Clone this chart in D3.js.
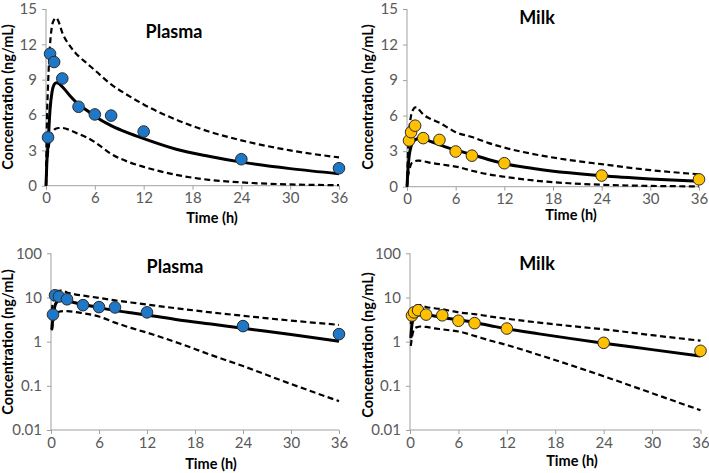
<!DOCTYPE html>
<html>
<head>
<meta charset="utf-8">
<script src="https://cdn.jsdelivr.net/npm/d3@7"></script>
<style>
  body { margin: 0; background: #fff; }
  svg { display: block; }
  .tick text { font-family: Lato, "Liberation Sans", sans-serif; font-size: 15px; fill: #595959; }
  .tick line, .domain { stroke: #a0a0a0; }
  .ttl { font-family: Lato, "Liberation Sans", sans-serif; font-weight: bold; fill: #000; }
</style>
</head>
<body>
<div class="fig"></div>
<script>
var width = 709, height = 473;

// model time grid (h)
var modelTimes = [0, 0.1, 0.25, 0.5, 0.75, 1, 1.25, 1.5, 2, 3, 4, 5, 6, 8, 10, 12, 16, 20, 24, 30, 36];

// plasma: prediction and dashed bounds (ng/mL)
var plasmaPred  = [0, 1.9, 3.5, 6.5, 8.0, 8.6, 8.75, 8.7, 8.4, 7.6, 6.9, 6.4, 5.9, 5.1, 4.5, 4.0, 3.1, 2.5, 2.0, 1.45, 1.02];
var plasmaUpper = [0, 5.0, 8.5, 12.0, 13.6, 14.1, 14.25, 14.0, 13.0, 11.8, 11.0, 10.4, 9.8, 8.6, 7.7, 6.9, 5.6, 4.6, 3.85, 3.0, 2.4];
var plasmaLower = [0, 1.8, 2.8, 4.0, 4.5, 4.75, 4.85, 4.9, 4.9, 4.7, 4.4, 4.1, 3.7, 2.7, 2.05, 1.6, 0.92, 0.5, 0.28, 0.11, 0.045];

// milk
var milkPred  = [0, 1.2, 2.5, 3.4, 3.8, 3.95, 4.05, 4.07, 4.05, 3.8, 3.55, 3.3, 3.1, 2.72, 2.3, 1.95, 1.5, 1.17, 0.92, 0.66, 0.47];
var milkUpper = [0, 2.5, 4.5, 6.0, 6.5, 6.7, 6.7, 6.5, 6.1, 5.7, 5.4, 5.0, 4.6, 4.2, 3.7, 3.3, 2.7, 2.25, 1.9, 1.4, 1.05];
var milkLower = [0, 0.8, 1.3, 1.9, 2.1, 2.15, 2.2, 2.2, 2.15, 2.0, 1.9, 1.8, 1.7, 1.35, 1.05, 0.84, 0.5, 0.29, 0.165, 0.068, 0.028];

// observed
var obsTimes  = [0.25, 0.5, 1, 2, 4, 6, 8, 12, 24, 36];
var plasmaObs = [4.1, 11.2, 10.5, 9.1, 6.7, 6.05, 5.95, 4.6, 2.25, 1.48];
var milkObs   = [3.9, 4.6, 5.15, 4.1, 3.95, 2.97, 2.62, 1.98, 0.94, 0.62];

var xTicks   = [0, 6, 12, 18, 24, 30, 36];
var linTicks = [0, 3, 6, 9, 12, 15];
var logTicks = [0.01, 0.1, 1, 10, 100];

var panels = [
  {title: "Plasma", log: false, pred: plasmaPred, up: plasmaUpper, lo: plasmaLower, obs: plasmaObs, fill: "#1f77c8",
   x0: 46, x1: 339, y0: 185.7, y1: 9, tx: 174, ty: 32, ax: 212, ay: 218, yx: 8, yy: 97},
  {title: "Milk", log: false, pred: milkPred, up: milkUpper, lo: milkLower, obs: milkObs, fill: "#ffc000",
   x0: 407, x1: 699, y0: 186.7, y1: 9, tx: 537, ty: 18, ax: 571, ay: 215, yx: 368, yy: 97},
  {title: "Plasma", log: true, pred: plasmaPred, up: plasmaUpper, lo: plasmaLower, obs: plasmaObs, fill: "#1f77c8",
   x0: 51, x1: 339, y0: 430, y1: 253.3, tx: 175, ty: 267, ax: 211, ay: 464, yx: 8, yy: 342},
  {title: "Milk", log: true, pred: milkPred, up: milkUpper, lo: milkLower, obs: milkObs, fill: "#ffc000",
   x0: 410, x1: 700.5, y0: 430, y1: 253.3, tx: 537, ty: 264, ax: 572, ay: 461, yx: 368, yy: 345}
];

var svg = d3.select(".fig").append("svg").attr("width", width).attr("height", height);

panels.forEach(function(p) {
  var g = svg.append("g");
  var x = d3.scaleLinear().domain([0, 36]).range([p.x0, p.x1]);
  var y = p.log ? d3.scaleLog().domain([0.01, 100]).range([p.y0, p.y1])
                : d3.scaleLinear().domain([0, 15]).range([p.y0, p.y1]);

  var xa = g.append("g").attr("transform", "translate(0," + p.y0 + ")")
    .call(d3.axisBottom(x).tickValues(xTicks).tickSize(4).tickPadding(3).tickFormat(d3.format("d")));
  var ya = g.append("g").attr("transform", "translate(" + p.x0 + ",0)")
    .call(d3.axisLeft(y).tickValues(p.log ? logTicks : linTicks).tickSize(4).tickPadding(5)
      .tickFormat(function(d) { return p.log ? String(+d) : d; }));
  // plain axis lines without end caps
  xa.select(".domain").attr("d", "M" + p.x0 + ",0H" + p.x1);
  ya.select(".domain").attr("d", "M0," + p.y0 + "V" + p.y1);

  var pts = function(vals) {
    return modelTimes.map(function(t, i) { return [t, vals[i]]; })
      .filter(function(d) { return !p.log || d[1] > 0; });
  };
  var line = d3.line().x(function(d) { return x(d[0]); }).y(function(d) { return y(d[1]); })
    .curve(d3.curveMonotoneX);

  [p.up, p.lo].forEach(function(v) {
    g.append("path").datum(pts(v)).attr("d", line)
      .attr("fill", "none").attr("stroke", "#000").attr("stroke-width", 2.2).attr("stroke-dasharray", "6,3.5");
  });
  g.append("path").datum(pts(p.pred)).attr("d", line)
    .attr("fill", "none").attr("stroke", "#000").attr("stroke-width", 3);

  g.selectAll("circle").data(obsTimes).enter().append("circle")
    .attr("cx", function(d) { return x(d); })
    .attr("cy", function(d, i) { return y(p.obs[i]); })
    .attr("r", 5.8)
    .style("fill", p.fill).style("stroke", "#2b2b2b").style("stroke-width", 1);

  g.append("text").attr("class", "ttl").attr("x", p.tx).attr("y", p.ty).attr("dy", ".35em")
    .attr("text-anchor", "middle").style("font-size", "18px").text(p.title);
  g.append("text").attr("class", "ttl").attr("x", p.ax).attr("y", p.ay).attr("dy", ".35em")
    .attr("text-anchor", "middle").style("font-size", "14.5px").text("Time (h)");
  g.append("text").attr("class", "ttl")
    .attr("transform", "translate(" + p.yx + "," + p.yy + ") rotate(-90)").attr("dy", ".35em")
    .attr("text-anchor", "middle").style("font-size", "14.5px").text("Concentration (ng/mL)");
});
</script>
</body>
</html>
